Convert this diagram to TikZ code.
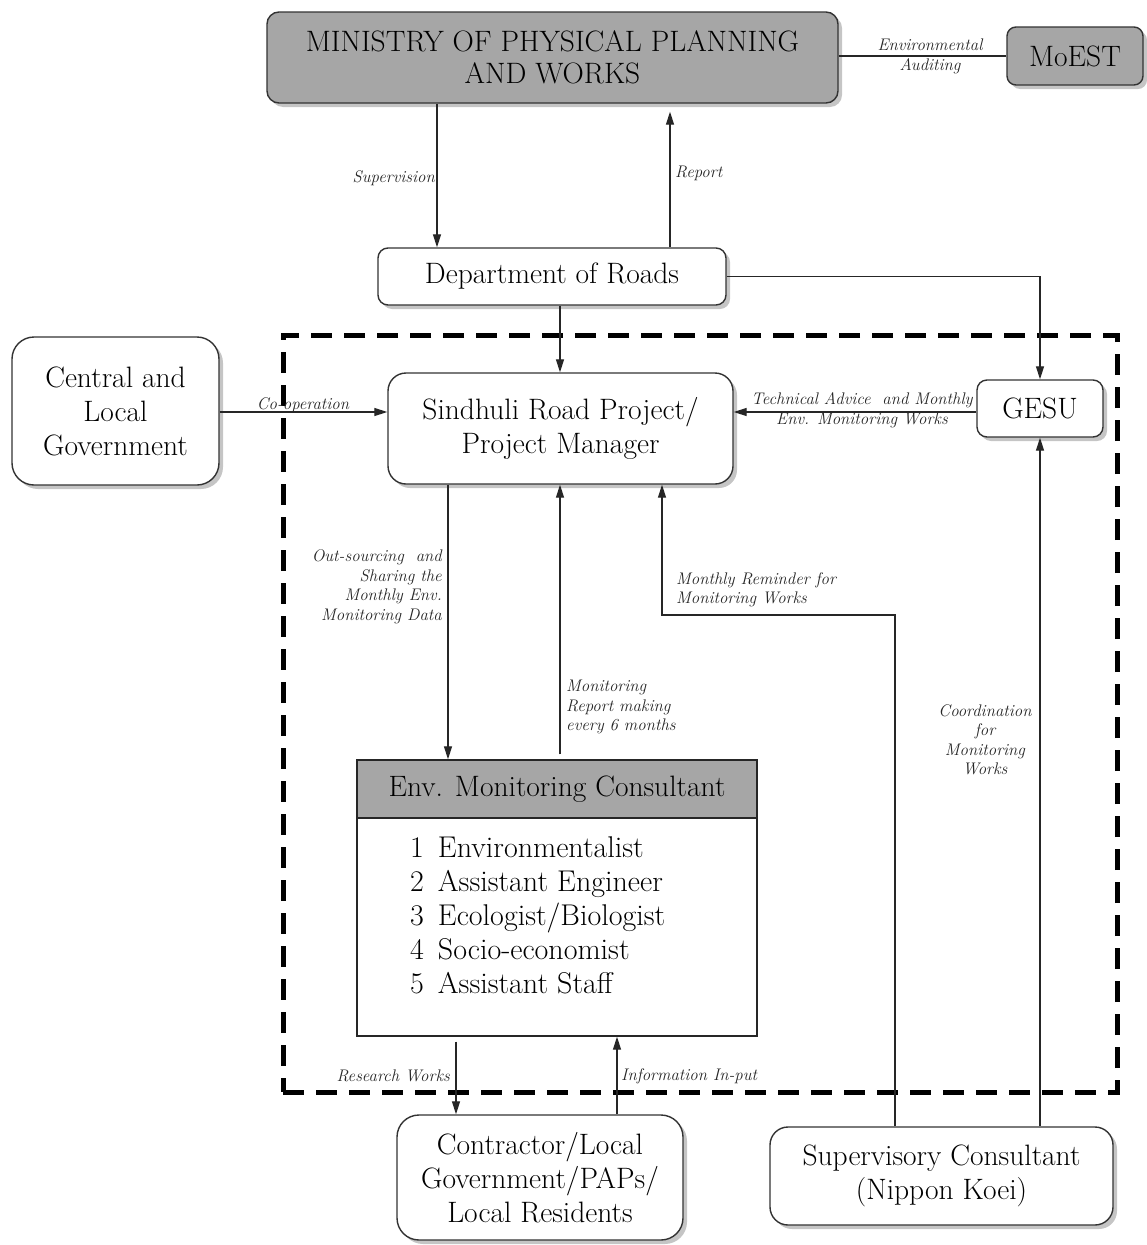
\documentclass[tikz,border=0pt]{standalone}
\usepackage{fontspec}
\usetikzlibrary{arrows.meta,shadows}
\definecolor{boxgray}{HTML}{A6A6A6}
\definecolor{labcol}{HTML}{262626}
\newcommand{\heavier}{\addfontfeatures{FakeBold=0.8}}
\newcommand{\lheavier}{\addfontfeatures{FakeBold=0.4}}
\begin{document}
\begin{tikzpicture}[x=1pt,y=-1pt,
  box/.style={draw=black!80, line width=1.4pt, fill=white, align=center,
    font=\fontsize{29.5}{34}\selectfont\heavier, inner sep=0pt,
    drop shadow={shadow xshift=4pt,shadow yshift=-4pt,opacity=0.45}},
  graybox/.style={box, fill=boxgray},
  lab/.style={font=\fontsize{16.8}{19.5}\selectfont\itshape\lheavier, text=labcol, inner sep=0pt},
  conn/.style={draw=black!85, line width=1.2pt},
  arr/.style={conn, -{Triangle[length=13pt,width=8pt]}},
  groupbox/.style={draw=black, line width=5pt, dash pattern=on 21pt off 12pt, inner sep=0pt}
]
\path[use as bounding box] (0,0) rectangle (1147,1245);
\fill[white] (0,0) rectangle (1147,1245);

% dashed project boundary
\node[groupbox, minimum width=834pt, minimum height=757pt] (group) at (700,713.5) {};

% nodes
\node[graybox, rounded corners=12pt, minimum width=571pt, minimum height=91pt, font=\fontsize{29.5}{32}\selectfont\heavier] (min) at (552.5,57.5) {MINISTRY OF PHYSICAL PLANNING\\AND WORKS};
\node[graybox, rounded corners=9pt, minimum width=136pt, minimum height=58pt] (moest) at (1075,56) {MoEST};
\node[box, rounded corners=10pt, minimum width=348pt, minimum height=57pt] (dor) at (552,276.5) {Department of Roads};
\node[box, rounded corners=22pt, minimum width=207pt, minimum height=148pt] (cen) at (115.5,411) {Central and\\Local\\Government};
\node[box, rounded corners=18pt, minimum width=345pt, minimum height=111pt] (srp) at (560.5,428.5) {Sindhuli Road Project/\\Project Manager};
\node[box, rounded corners=10pt, minimum width=126pt, minimum height=57pt] (gesu) at (1040,408.5) {GESU};
\node[draw=black!85, line width=1.4pt, fill=white, minimum width=400pt, minimum height=276pt, inner sep=0pt] (emc) at (557,898) {};
\node[draw=black!85, line width=1.4pt, fill=boxgray, minimum width=400pt, minimum height=58pt, inner sep=0pt, font=\fontsize{29.5}{34}\selectfont\heavier] (emchead) at (557,789) {Env. Monitoring Consultant};
\node[anchor=north west, inner sep=0pt, align=left, font=\fontsize{30}{34}\selectfont\lheavier] (emclist) at (410,836)
 {1\hspace{14pt}Environmentalist\\2\hspace{14pt}Assistant Engineer\\3\hspace{14pt}Ecologist/Biologist\\4\hspace{14pt}Socio-economist\\5\hspace{14pt}Assistant Staff};
\node[box, rounded corners=22pt, minimum width=286pt, minimum height=125pt] (con) at (540,1177.5) {Contractor/Local\\Government/PAPs/\\Local Residents};
\node[box, rounded corners=18pt, minimum width=343pt, minimum height=98pt] (sup) at (941.5,1176) {Supervisory Consultant\\(Nippon Koei)};

% helper coordinates
\coordinate (c437) at (437,0);
\coordinate (c670) at (670,0);
\coordinate (c560) at (560,0);
\coordinate (c448) at (448,0);
\coordinate (c456) at (456,0);
\coordinate (c617) at (617,0);
\coordinate (c895) at (895,0);
\coordinate (c412) at (0,412);
\coordinate (rem) at (662,615);

% connectors
\draw[conn] (min.east |- moest.west) -- (moest.west);
\draw[arr] (min.south -| c437) -- (dor.north -| c437);
\draw[arr] (dor.north -| c670) -- ([yshift=-8pt]min.south -| c670);
\draw[arr] (dor.south -| c560) -- (srp.north -| c560);
\draw[arr] (dor.east) -| (gesu.north);
\draw[arr] (cen.east |- c412) -- (srp.west |- c412);
\draw[arr] (gesu.west |- c412) -- (srp.east |- c412);
\draw[arr] (srp.south -| c448) -- (emchead.north -| c448);
\draw[arr] ([yshift=5pt]emchead.north -| c560) -- (srp.south -| c560);
\draw[arr] (sup.north -| c895) |- (rem) -- (srp.south -| rem);
\draw[arr] (sup.north -| gesu.south) -- (gesu.south);
\draw[arr] ([yshift=-5pt]emc.south -| c456) -- (con.north -| c456);
\draw[arr] (con.north -| c617) -- (emc.south -| c617);

% labels
\node[lab, align=center] (lenv) at (930,56.5) {Environmental\\Auditing};
\node[lab, anchor=east] (lsup) at (435,178) {Supervision};
\node[lab, anchor=west] (lrep) at (675,173) {Report};
\node[lab, anchor=base] (lcoop) at (303,409) {Co-operation};
\node[lab, align=center] (ltech) at (862,410) {Technical Advice\ \ and Monthly\\Env. Monitoring Works};
\node[lab, anchor=east, align=right] (lout) at (442,587) {Out-sourcing\ \ and\\Sharing the\\Monthly Env.\\Monitoring Data};
\node[lab, anchor=west, align=left] (lmr) at (566,707) {Monitoring\\Report making\\every 6 months};
\node[lab, anchor=west, align=left] (lrem) at (676,590) {Monthly Reminder for\\Monitoring Works};
\node[lab, align=center] (lcoord) at (985,740) {Coordination\\for\\Monitoring\\Works};
\node[lab, anchor=east] (lres) at (450,1076) {Research Works};
\node[lab, anchor=west] (linf) at (621,1076) {Information In-put};
\end{tikzpicture}
\end{document}
